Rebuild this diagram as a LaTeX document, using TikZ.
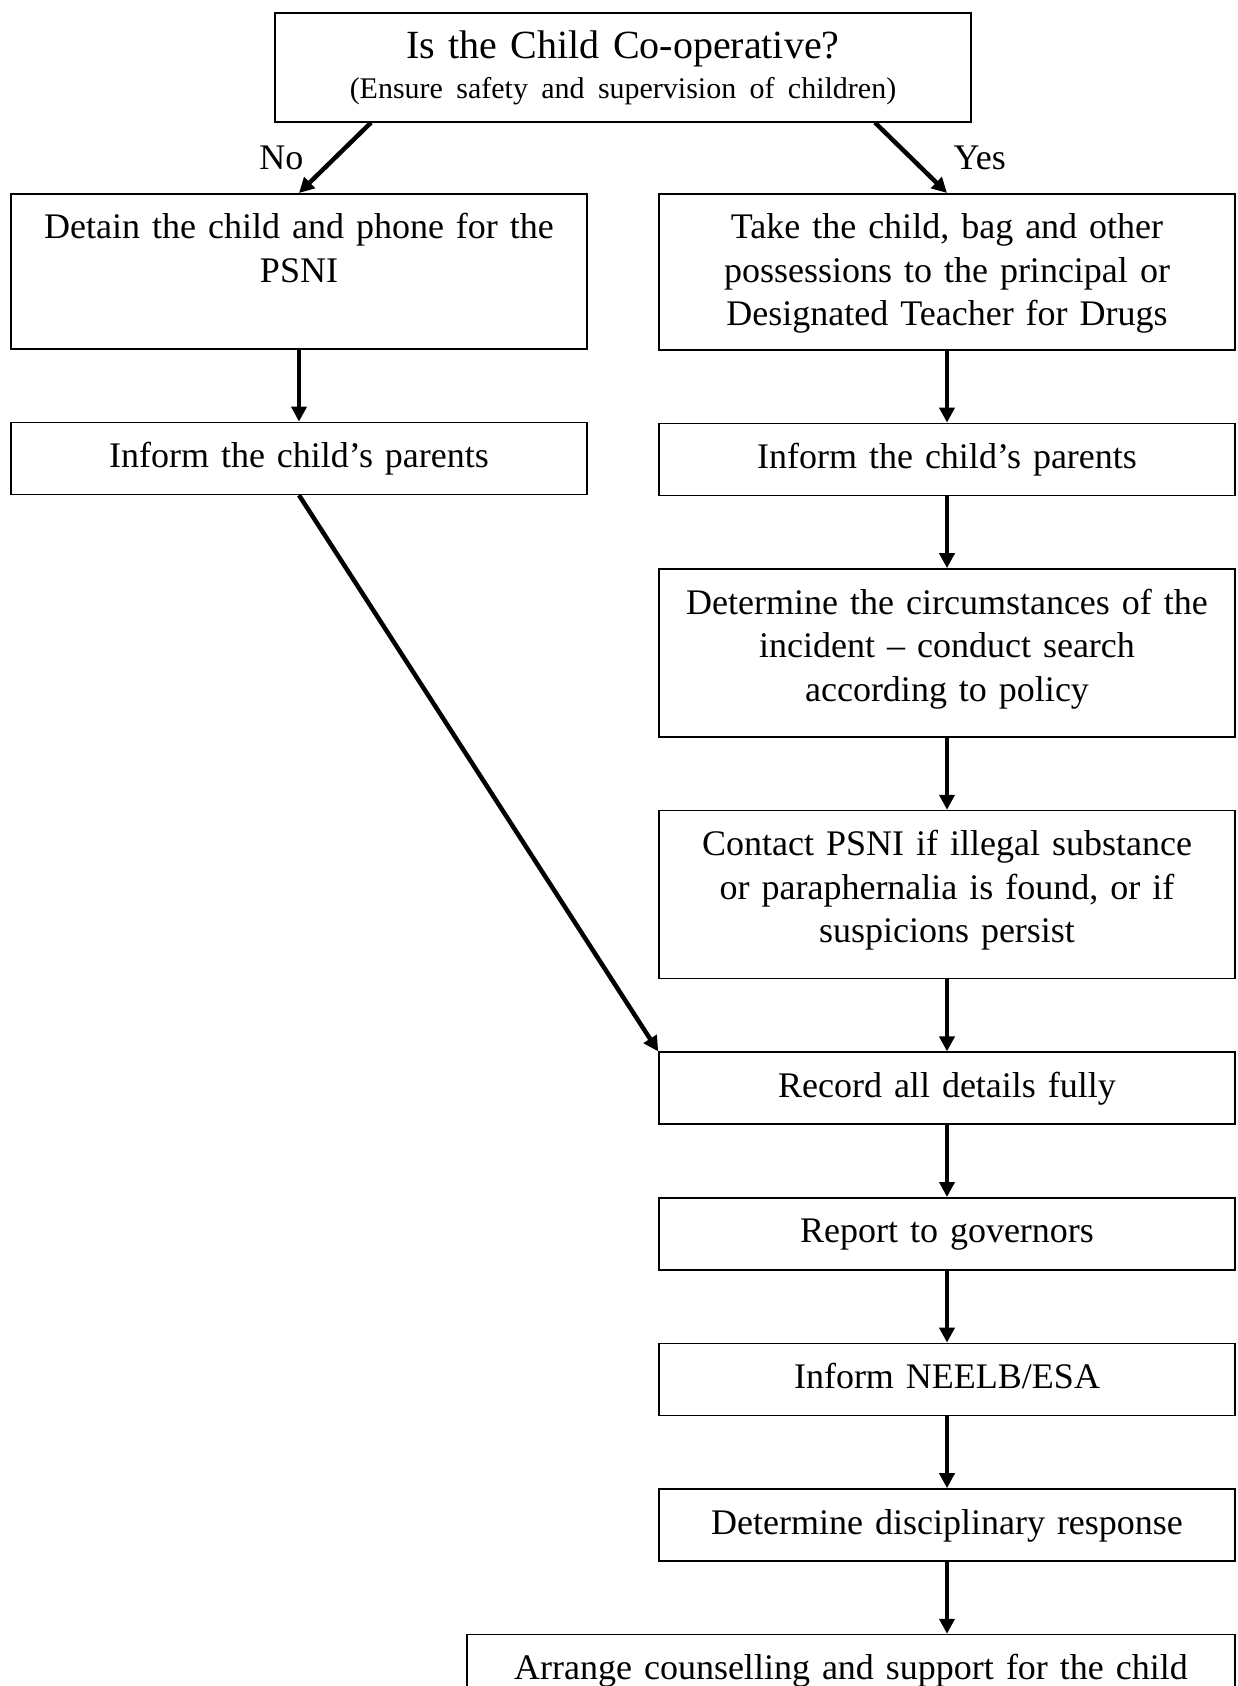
\documentclass[tikz,border=0pt]{standalone}
\usepackage{fontspec}
\setmainfont{Liberation Serif}
\usetikzlibrary{positioning,calc,arrows.meta}
\def\BoxGap{72pt}
\def\ColWidth{564pt}
\def\FlowFont{\fontsize{36pt}{43.5pt}\selectfont}
\def\TitleFont{\fontsize{40pt}{48pt}\selectfont}
\def\NoteFont{\fontsize{30pt}{36pt}\selectfont}

\begin{document}
\begin{tikzpicture}[x=1pt,y=-1pt,
    flowbox/.style={draw,line width=1.6pt,inner xsep=6pt,inner ysep=0pt,text width=\ColWidth,
      align=center,font=\FlowFont,text height=45pt,text depth=27pt},
    flowarrow/.style={line width=4.5pt,-{Triangle[length=15pt,width=15pt]}}]
	\useasboundingbox (0,0) rectangle (1238,1686);
	\node[flowbox,anchor=north,text width=684pt,text height=46pt,text depth=63pt,font=\TitleFont] (coop) at (623,12)
		{Is the Child Co-operative?\\[-8pt]{\NoteFont (Ensure safety and supervision of children)}};
	% 
	\node[flowbox,anchor=north,text depth=110pt] (detain) at (299,193)
		{Detain the child and phone for the\\PSNI};
	\node[flowbox,below=\BoxGap of detain] (informL) {Inform the child's parents};
	% 
	\node[flowbox,anchor=north,text depth=111pt] (take) at (947,193)
		{Take the child, bag and other\\possessions to the principal or\\Designated Teacher for Drugs};
	\node[flowbox,below=\BoxGap of take] (informR) {Inform the child's parents};
	\node[flowbox,below=\BoxGap of informR,text depth=123pt] (circ)
		{Determine the circumstances of the\\incident -- conduct search\\according to policy};
	\node[flowbox,below=\BoxGap of circ,text depth=123pt] (contact)
		{Contact PSNI if illegal substance\\or paraphernalia is found, or if\\suspicions persist};
	\node[flowbox,below=\BoxGap of contact] (record) {Record all details fully};
	\node[flowbox,below=\BoxGap of record] (report) {Report to governors};
	\node[flowbox,below=\BoxGap of report] (neelb) {Inform NEELB/ESA};
	\node[flowbox,below=\BoxGap of neelb] (disc) {Determine disciplinary response};
	\node[flowbox,below=\BoxGap of disc.south east,anchor=north east,text width=756pt] (counsel)
		{Arrange counselling and support for the child};
	% 
	\coordinate (noStart) at ($(coop.south)+(-252,0)$);
	\coordinate (yesStart) at ($(coop.south)+(252,0)$);
	% 
	\draw[flowarrow] (noStart) -- node[midway,left=26pt,font=\FlowFont] {No} (detain.north);
	\draw[flowarrow] (yesStart) -- node[midway,right=37pt,font=\FlowFont] {Yes} (take.north);
	\draw[flowarrow] (detain) -- (informL);
	\draw[flowarrow] (informL.south) -- (record.north west);
	\foreach \from/\to in {take/informR,informR/circ,circ/contact,contact/record,
		record/report,report/neelb,neelb/disc}
		\draw[flowarrow] (\from) -- (\to);
	\draw[flowarrow] (disc) -- (disc.south |- counsel.north);
\end{tikzpicture}
\end{document}
